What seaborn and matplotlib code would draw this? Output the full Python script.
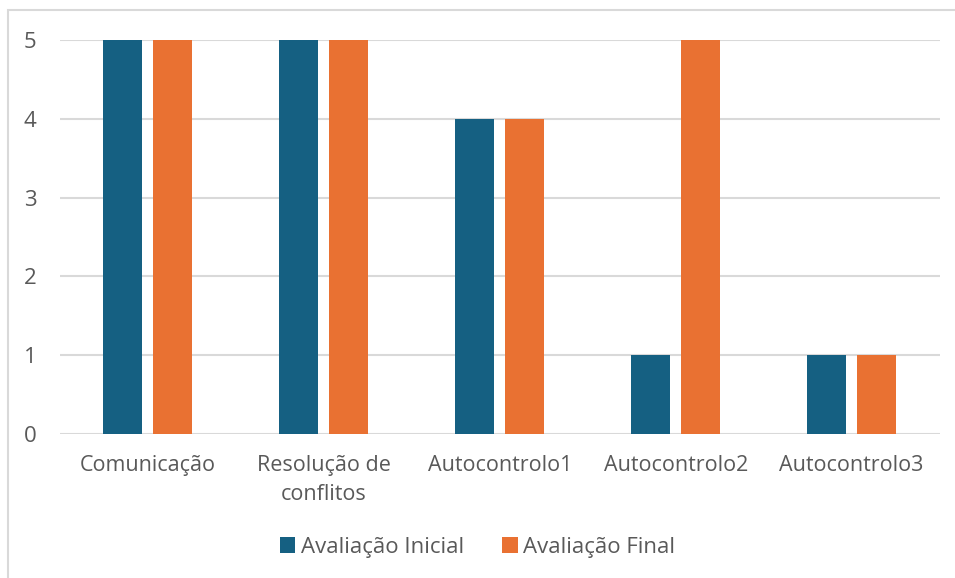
import matplotlib
matplotlib.use("Agg")
import matplotlib.pyplot as plt
import seaborn as sns
import pandas as pd
from matplotlib.patches import Rectangle

categorias = ["Comunicação", "Resolução de\nconflitos", "Autocontrolo1", "Autocontrolo2", "Autocontrolo3"]
avaliacao_inicial = [5, 5, 4, 1, 1]
avaliacao_final = [5, 5, 4, 5, 1]
series = ["Avaliação Inicial", "Avaliação Final"]
cores = ["#156082", "#E97132"]

df = pd.DataFrame({
    "categoria": categorias * 2,
    "valor": avaliacao_inicial + avaliacao_final,
    "serie": [series[0]] * len(categorias) + [series[1]] * len(categorias),
})

sns.set_theme(style="white")
plt.rcParams["font.family"] = ["Open Sans", "DejaVu Sans"]
texto = "#595959"
grade = "#D9D9D9"
fs = 15.5

fig = plt.figure(figsize=(9.55, 5.78), dpi=100)
ax = fig.add_axes([0.0628, 0.249, 0.921, 0.682])

sns.barplot(data=df, x="categoria", y="valor", hue="serie", palette=cores,
            width=0.568, gap=0.22, ax=ax, saturation=1, legend=True, linewidth=0)

ax.set_ylim(0, 5)
ax.set_xlim(-0.5, len(categorias) - 0.5)
ax.set_yticks(range(0, 6))
ax.yaxis.grid(True, color=grade, linewidth=1.5)
ax.set_axisbelow(True)
for s in ax.spines.values():
    s.set_visible(False)
ax.set_xlabel("")
ax.set_ylabel("")
ax.tick_params(axis="y", length=0, pad=17, labelsize=fs + 0.5, labelcolor=texto)
ax.tick_params(axis="x", length=0, pad=15, labelsize=fs, labelcolor=texto)
for lbl in ax.get_xticklabels():
    lbl.set_linespacing(1.5)

leg = ax.legend(loc="center", bbox_to_anchor=(0.5, 0.0535), bbox_transform=fig.transFigure,
                ncol=2, frameon=False, fontsize=fs + 0.5, handlelength=0.7, handleheight=0.7,
                handletextpad=0.25, columnspacing=1.7)
for t in leg.get_texts():
    t.set_color(texto)

fig.patches.append(Rectangle((8 / 955, -0.05), 1.2, 1 - 10 / 578 + 0.05,
                             transform=fig.transFigure, fill=False,
                             edgecolor=grade, linewidth=1.5))

fig.savefig("out.png", dpi=100)
